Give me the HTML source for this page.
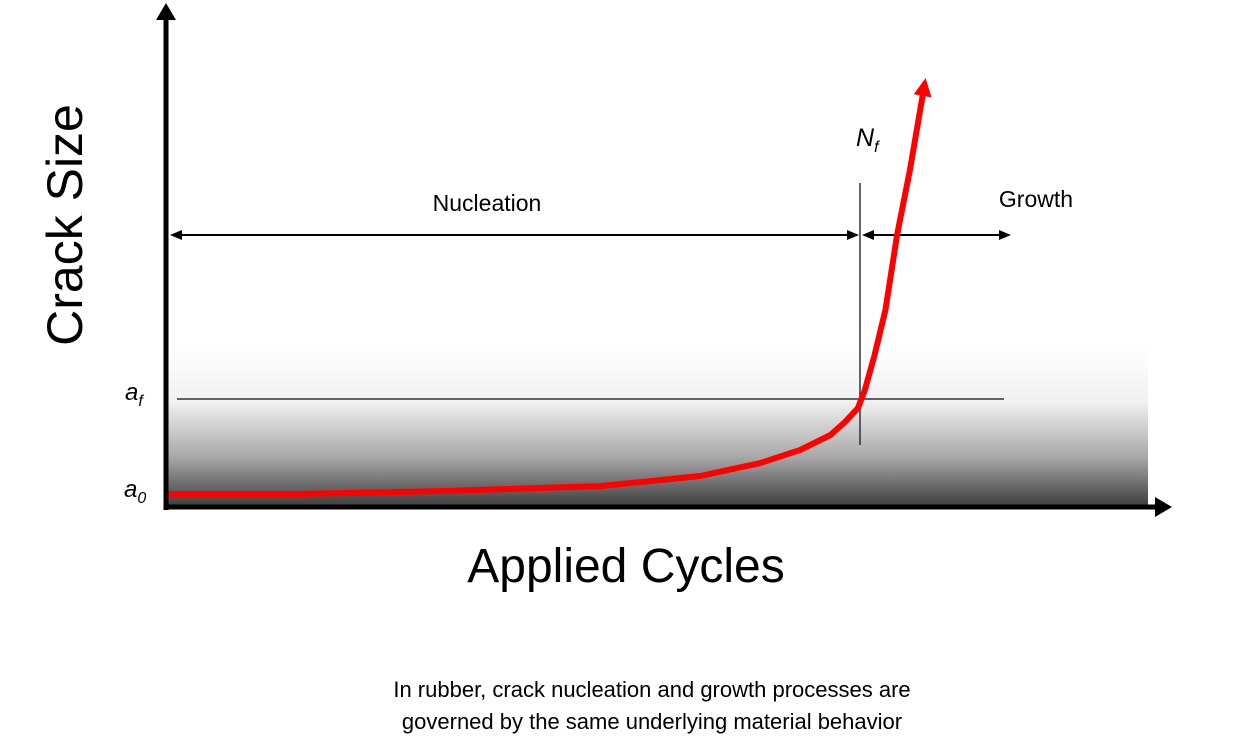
<!DOCTYPE html>
<html><head><meta charset="utf-8"><style>
body{margin:0;background:#fff;}
svg{display:block;font-family:"Liberation Sans",sans-serif;}
</style></head><body>
<svg id="chart" width="1252" height="752" viewBox="0 0 1252 752">
<defs>
<linearGradient id="g" x1="0" y1="0" x2="0" y2="1">
<stop offset="0" stop-color="#ffffff"/>
<stop offset="0.35" stop-color="#f2f2f2"/>
<stop offset="0.7" stop-color="#a8a8a8"/>
<stop offset="1" stop-color="#404040"/>
</linearGradient>
</defs>
<rect x="168" y="345" width="980" height="160" fill="url(#g)"/>
<line x1="177" y1="399" x2="1004" y2="399" stroke="#333" stroke-width="1.5"/>
<line x1="860" y1="183" x2="860" y2="445" stroke="#333" stroke-width="1.5"/>
<g>
<line x1="180" y1="235" x2="848" y2="235" stroke="#000" stroke-width="2"/>
<polygon points="170,235 182,230 182,240" fill="#000"/>
<polygon points="859,235 847,230 847,240" fill="#000"/>
</g>
<g>
<line x1="872" y1="235" x2="1000" y2="235" stroke="#000" stroke-width="2"/>
<polygon points="862,235 874,230 874,240" fill="#000"/>
<polygon points="1011,235 999,230 999,240" fill="#000"/>
</g>
<text x="487" y="211" font-size="23" text-anchor="middle">Nucleation</text>
<text x="1036" y="207" font-size="23" text-anchor="middle">Growth</text>
<text x="856" y="146" font-size="25" font-style="italic">N<tspan font-size="16" dy="6">f</tspan></text>
<text x="125" y="400" font-size="24" font-style="italic">a<tspan font-size="16" dy="6">f</tspan></text>
<text x="124" y="497" font-size="24" font-style="italic">a<tspan font-size="16" dy="6">0</tspan></text>
<g id="curve"></g>
<g>
<line x1="166" y1="510" x2="166" y2="16" stroke="#000" stroke-width="5"/>
<polygon points="166,3 156,20 176,20" fill="#000"/>
</g>
<g>
<line x1="164" y1="507" x2="1158" y2="507" stroke="#000" stroke-width="5"/>
<polygon points="1172,507 1155,497 1155,517" fill="#000"/>
</g>
<text transform="translate(82,225) rotate(-90)" font-size="50" text-anchor="middle">Crack Size</text>
<text x="626" y="582" font-size="48" text-anchor="middle">Applied Cycles</text>
<text x="652" y="697" font-size="22" text-anchor="middle">In rubber, crack nucleation and growth processes are</text>
<text x="652" y="729" font-size="22" text-anchor="middle">governed by the same underlying material behavior</text>
</svg>
<script>
const cycles = [0, 13.5, 28.8, 44.1, 54.3, 60.4, 64.5, 67.6, 69.1, 70.4, 71.1, 72.1, 73.2, 74.4, 75.7, 77.0];
const crackSize = [0, 0, 0.7, 1.8, 4.1, 7, 10, 13.4, 16.4, 19.5, 23.6, 31.6, 41.8, 58.9, 73.6, 90.5];
const xScale = v => 168 + v * 9.8;
const yScale = v => 494 - v * 4.4;
const NS = 'http://www.w3.org/2000/svg';
const g = document.getElementById('curve');
let d = '';
cycles.forEach((c, i) => { d += (i ? 'L' : 'M') + xScale(c).toFixed(1) + ',' + yScale(crackSize[i]).toFixed(1); });
const p = document.createElementNS(NS, 'path');
p.setAttribute('d', d);
p.setAttribute('fill', 'none');
p.setAttribute('stroke', '#ff0000');
p.setAttribute('stroke-width', '6');
p.setAttribute('stroke-linejoin', 'round');


g.appendChild(p);
const n = cycles.length;
const x1 = xScale(cycles[n - 2]), y1 = yScale(crackSize[n - 2]);
const x2 = xScale(cycles[n - 1]), y2 = yScale(crackSize[n - 1]);
const ang = Math.atan2(y2 - y1, x2 - x1);
const L = 18, W = 9;
const tx = x2 + Math.cos(ang) * L, ty = y2 + Math.sin(ang) * L;
const px = -Math.sin(ang) * W, py = Math.cos(ang) * W;
const head = document.createElementNS(NS, 'polygon');
head.setAttribute('points', `${tx},${ty} ${x2 + px},${y2 + py} ${x2 - px},${y2 - py}`);
head.setAttribute('fill', '#ff0000');


g.appendChild(head);
</script>
</body></html>
